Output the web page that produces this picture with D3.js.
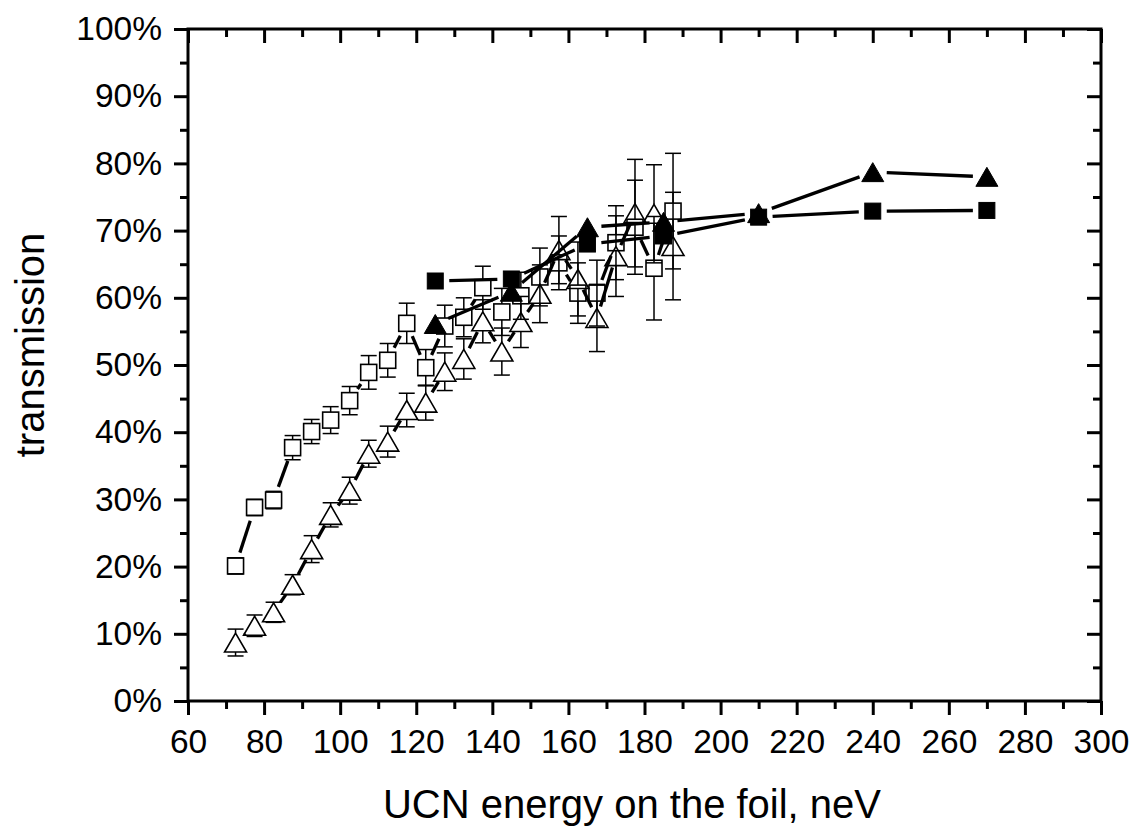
<!DOCTYPE html>
<html><head><meta charset="utf-8">
<script src="https://cdn.jsdelivr.net/npm/d3@7"></script>
<style>body{margin:0;background:#fff;} svg{display:block;}</style>
</head><body>
<svg id="c" width="1139" height="833"></svg>
<script>
// ---- data ----
const openEnergy = [72.5,77.5,82.5,87.5,92.5,97.5,102.5,107.5,112.5,117.5,122.5,127.5,132.5,137.5,142.5,147.5,152.5,157.5,162.5,167.5,172.5,177.5,182.5,187.5];
const openSquareT = [20.1,28.8,29.9,37.7,40.1,41.8,44.7,48.9,50.7,56.2,49.6,55.8,57.1,61.5,57.9,60.3,63.1,65.2,60.7,60.7,68.2,70.5,64.4,72.9];
const openSquareErr = [1.2,1.2,1.3,1.8,1.8,2.0,2.1,2.5,2.5,3.0,2.7,3.1,2.9,3.2,3.5,3.5,4.3,4.0,4.5,4.9,5.5,7.0,7.7,8.6];
const openTriT = [8.7,11.2,13.2,17.3,22.6,27.7,31.3,36.8,38.6,43.3,44.4,49.0,50.9,56.5,52.0,56.4,60.6,67.1,62.8,57.0,66.2,72.6,72.5,67.7];
const openTriErr = [2.0,1.6,1.5,1.5,2.0,1.8,2.0,2.0,2.3,2.5,2.6,2.8,3.0,3.2,3.5,3.8,4.3,5.0,5.5,5.0,6.0,8.0,7.3,8.0];
const filledEnergy = [125,145,165,185,210,240,270];
const filledSquareT = [62.5,62.8,68.0,69.2,72.0,72.9,73.0];
const filledTriT = [56.1,60.9,70.5,71.3,72.6,78.7,78.0];
const xTicks = [60,80,100,120,140,160,180,200,220,240,260,280,300];
const yTicks = [0,10,20,30,40,50,60,70,80,90,100];

// ---- layout ----
const L=188, R=1101, T=29, B=701;
const x = d3.scaleLinear().domain([60,300]).range([L,R]);
const y = d3.scaleLinear().domain([0,100]).range([B,T]);
const svg = d3.select("#c");
const font = "'Liberation Sans', Arial, sans-serif";

// ---- axes ----
const xMinor = d3.range(70,300,20);
const yMinor = d3.range(5,100,10);
function styleAxis(g){
  g.select(".domain").remove();
  g.selectAll(".tick line").attr("stroke","#000").attr("stroke-width",3);
  g.selectAll("text").attr("font-family",font).attr("font-size",33.5).attr("fill","#000");
}
svg.append("g").attr("transform",`translate(0,${B})`)
  .call(d3.axisBottom(x).tickValues(xTicks).tickSize(14).tickPadding(14).tickFormat(d3.format("d"))).call(styleAxis);
svg.append("g").attr("transform",`translate(0,${B})`)
  .call(d3.axisBottom(x).tickValues(xMinor).tickSize(8).tickFormat("")).call(styleAxis);
svg.append("g").attr("transform",`translate(0,${T})`)
  .call(d3.axisBottom(x).tickValues(xTicks).tickSize(14).tickFormat("")).call(styleAxis);
svg.append("g").attr("transform",`translate(0,${T})`)
  .call(d3.axisBottom(x).tickValues(xMinor).tickSize(8).tickFormat("")).call(styleAxis);
svg.append("g").attr("transform",`translate(${L},0)`)
  .call(d3.axisLeft(y).tickValues(yTicks).tickSize(14).tickPadding(12).tickFormat(d=>d+"%")).call(styleAxis);
svg.append("g").attr("transform",`translate(${L},0)`)
  .call(d3.axisLeft(y).tickValues(yMinor).tickSize(8).tickFormat("")).call(styleAxis);
svg.append("g").attr("transform",`translate(${R},0)`)
  .call(d3.axisLeft(y).tickValues(yTicks).tickSize(14).tickFormat("")).call(styleAxis);
svg.append("g").attr("transform",`translate(${R},0)`)
  .call(d3.axisLeft(y).tickValues(yMinor).tickSize(8).tickFormat("")).call(styleAxis);
svg.append("rect").attr("x",L).attr("y",T).attr("width",R-L).attr("height",B-T)
  .attr("fill","none").attr("stroke","#000").attr("stroke-width",3);

// ---- titles ----
svg.append("text").attr("x",632).attr("y",818).attr("text-anchor","middle")
  .attr("font-family",font).attr("font-size",40).text("UCN energy on the foil, neV");
svg.append("text").attr("transform","translate(44,345) rotate(-90)").attr("text-anchor","middle")
  .attr("font-family",font).attr("font-size",40).text("transmission");

// ---- series helpers ----
function gappedLines(xs, ys, gap){
  const g = svg.append("g");
  for(let i=0;i<xs.length-1;i++){
    const x1=x(xs[i]), y1=y(ys[i]), x2=x(xs[i+1]), y2=y(ys[i+1]);
    const dx=x2-x1, dy=y2-y1, len=Math.hypot(dx,dy);
    if(len<=2*gap) continue;
    const ux=dx/len, uy=dy/len;
    g.append("line").attr("x1",x1+ux*gap).attr("y1",y1+uy*gap)
      .attr("x2",x2-ux*gap).attr("y2",y2-uy*gap)
      .attr("stroke","#000").attr("stroke-width",3.3);
  }
}
function errorBars(xs, ys, es, half){
  const g = svg.append("g").attr("stroke","#000").attr("stroke-width",1.5);
  xs.forEach((e,i)=>{
    const cx=x(e), cy=y(ys[i]), t=y(ys[i]+es[i]), b=y(ys[i]-es[i]);
    if(t < cy-half) g.append("line").attr("x1",cx).attr("x2",cx).attr("y1",t).attr("y2",cy-half);
    if(b > cy+half) g.append("line").attr("x1",cx).attr("x2",cx).attr("y1",cy+half).attr("y2",b);
    g.append("line").attr("x1",cx-8).attr("x2",cx+8).attr("y1",t).attr("y2",t);
    g.append("line").attr("x1",cx-8).attr("x2",cx+8).attr("y1",b).attr("y2",b);
  });
}
function squares(xs, ys, filled){
  svg.append("g").selectAll("rect").data(xs).join("rect")
    .attr("x",(d)=>x(d)-8).attr("y",(d,i)=>y(ys[i])-8).attr("width",16).attr("height",16)
    .attr("fill",filled?"#000":"none").attr("stroke","#000").attr("stroke-width",filled?1:1.6);
}
function triangles(xs, ys, filled){
  svg.append("g").selectAll("path").data(xs).join("path")
    .attr("d",(d,i)=>{const cx=x(d), cy=y(ys[i]); return `M${cx},${cy-9.5}L${cx+11},${cy+9.5}L${cx-11},${cy+9.5}Z`;})
    .attr("fill",filled?"#000":"none").attr("stroke","#000").attr("stroke-width",filled?1:1.6).attr("stroke-linejoin","miter");
}

// ---- draw ----
gappedLines(openEnergy, openSquareT, 14);
gappedLines(openEnergy, openTriT, 12);
errorBars(openEnergy, openSquareT, openSquareErr, 8);
errorBars(openEnergy, openTriT, openTriErr, 9.5);
squares(openEnergy, openSquareT, false);
triangles(openEnergy, openTriT, false);
gappedLines(filledEnergy, filledSquareT, 14);
gappedLines(filledEnergy, filledTriT, 14);
squares(filledEnergy, filledSquareT, true);
triangles(filledEnergy, filledTriT, true);
</script>
</body></html>
